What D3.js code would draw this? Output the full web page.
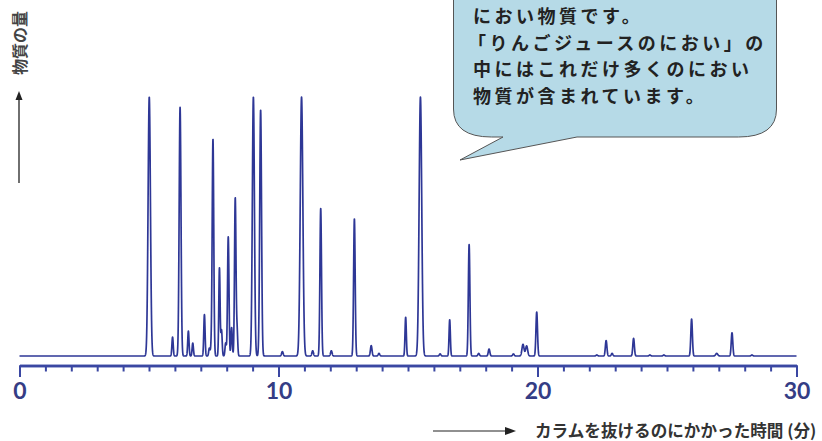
<!DOCTYPE html>
<html><head><meta charset="utf-8">
<script src="https://cdn.jsdelivr.net/npm/d3@7"></script>
<style>
html,body{margin:0;padding:0;background:#fff;}
svg{display:block;}
</style></head>
<body>
<svg id="c" width="822" height="441"></svg>
<script>
// Peak data (retention time in min, relative height 0-100, width sigma in min)
const peakTimes   = [5.01, 5.91, 6.20, 6.52, 6.69, 7.14, 7.33, 7.40, 7.47, 7.72, 7.80, 7.96, 8.06, 8.19, 8.33, 8.40, 9.03, 9.31, 10.15, 10.89, 11.32, 11.63, 12.04, 12.93, 13.58, 13.88, 14.91, 15.48, 16.24, 16.61, 17.36, 17.73, 18.13, 19.07, 19.44, 19.58, 19.97, 22.29, 22.65, 22.88, 23.71, 24.34, 24.88, 25.95, 26.92, 27.51, 28.28];
const peakHeights = [100, 7.3, 96, 9.6, 5, 16, 3, 3, 83.7, 34, 10, 5, 46, 11, 61, 10, 100, 95, 1.7, 100, 2, 57, 2, 53, 4, 1, 15, 100, 0.8, 14, 43, 1, 2.7, 0.8, 4.5, 3.9, 17, 0.4, 6, 1, 6.8, 0.4, 0.4, 14.3, 1, 9, 0.4];
const peakWidths  = [0.045, 0.025, 0.035, 0.025, 0.025, 0.025, 0.025, 0.025, 0.03, 0.025, 0.025, 0.025, 0.028, 0.025, 0.028, 0.025, 0.04, 0.035, 0.03, 0.05, 0.03, 0.03, 0.03, 0.03, 0.03, 0.03, 0.025, 0.05, 0.03, 0.025, 0.03, 0.03, 0.03, 0.03, 0.04, 0.04, 0.03, 0.03, 0.03, 0.03, 0.03, 0.03, 0.03, 0.03, 0.04, 0.03, 0.03];

const xMajorTicks = [0, 10, 20, 30];
const xMinorTicks = d3.range(0, 31, 1);
const yLabel = "物質の量";
const xLabel = "カラムを抜けるのにかかった時間 (分)";
const calloutLines = ["におい物質です。", "「りんごジュースのにおい」の", "中にはこれだけ多くのにおい", "物質が含まれています。"];

const svg = d3.select("#c");
const x = d3.scaleLinear().domain([0, 30]).range([19.5, 796.5]);
const y = d3.scaleLinear().domain([0, 100]).range([356, 97]);

// trace (sum of peak shapes)
const grid = d3.range(0, 30.0001, 0.004);
const trace = grid.map(t => {
  let v = 0;
  for (let i = 0; i < peakTimes.length; i++) {
    const d = (t - peakTimes[i]) / peakWidths[i];
    if (Math.abs(d) < 8) v += peakHeights[i] * Math.exp(-0.5 * d * d);
  }
  return [t, Math.min(v, 100)];
});
svg.append("path")
  .datum(trace)
  .attr("fill", "none")
  .attr("stroke", "#2e3796")
  .attr("stroke-width", 1.7)
  .attr("stroke-linejoin", "round")
  .attr("d", d3.line().x(d => x(d[0])).y(d => y(d[1])));

// x axis
const axisY = 365.5;
const gMinor = svg.append("g").attr("transform", `translate(0,${axisY})`)
  .call(d3.axisBottom(x).tickValues(xMinorTicks).tickSize(6).tickSizeOuter(0).tickFormat(""));
const gMajor = svg.append("g").attr("transform", `translate(0,${axisY})`)
  .call(d3.axisBottom(x).tickValues(xMajorTicks).tickSize(11.5).tickSizeOuter(0).tickPadding(6).tickFormat(d3.format("d")));
[gMinor, gMajor].forEach(g => {
  g.select(".domain").attr("stroke", "#3a47a2").attr("stroke-width", 2.5);
  g.selectAll(".tick line").attr("stroke", "#3a47a2").attr("stroke-width", 2);
});
gMajor.selectAll(".tick text")
  .attr("fill", "#353d85")
  .style("font-family", "Lato, 'DejaVu Sans', sans-serif")
  .style("font-weight", "bold")
  .style("font-size", "23px");

// y label with arrow
svg.append("line").attr("x1", 19).attr("x2", 19).attr("y1", 183).attr("y2", 98)
  .attr("stroke", "#222").attr("stroke-width", 1.3);
svg.append("path").attr("d", "M19,91 L15.5,100 L22.5,100 Z").attr("fill", "#222");
svg.append("text")
  .attr("transform", "translate(25.5,43) rotate(-90)")
  .attr("text-anchor", "middle")
  .attr("fill", "#444")
  .style("font-family", "'Noto Sans CJK JP', sans-serif")
  .style("font-weight", "bold")
  .style("font-size", "16px")
  .text(yLabel);

// x label with arrow
svg.append("line").attr("x1", 433).attr("x2", 508).attr("y1", 431).attr("y2", 431)
  .attr("stroke", "#222").attr("stroke-width", 1.2);
svg.append("path").attr("d", "M516,431 L505,427 L505,435 Z").attr("fill", "#222");
svg.append("text")
  .attr("x", 535).attr("y", 437)
  .attr("fill", "#333")
  .style("font-family", "'Noto Sans CJK JP', sans-serif")
  .style("font-weight", "bold")
  .style("font-size", "16.6px")
  .text(xLabel);

// callout bubble
const L = 453.5, R = 776.5, T = -40, B = 137, r = 28;
const bubble = `M${L},${T} L${R},${T} L${R},${B - r} Q${R},${B} ${R - r - 10},${B} L577,${B} L460,160 L503,${B} L${L + r + 10},${B} Q${L},${B} ${L},${B - r} Z`;
svg.append("path").attr("d", bubble)
  .attr("fill", "#b6dae7")
  .attr("stroke", "#555")
  .attr("stroke-width", 1);
svg.append("g").selectAll("text").data(calloutLines).join("text")
  .attr("x", (d, i) => i === 1 ? 468 : 473)
  .attr("y", (d, i) => 23 + i * 26.5)
  .attr("fill", "#222")
  .style("font-family", "'Noto Sans CJK JP', sans-serif")
  .style("font-weight", "bold")
  .style("font-size", "18px")
  .style("letter-spacing", "3.5px")
  .text(d => d);
</script>
</body></html>
